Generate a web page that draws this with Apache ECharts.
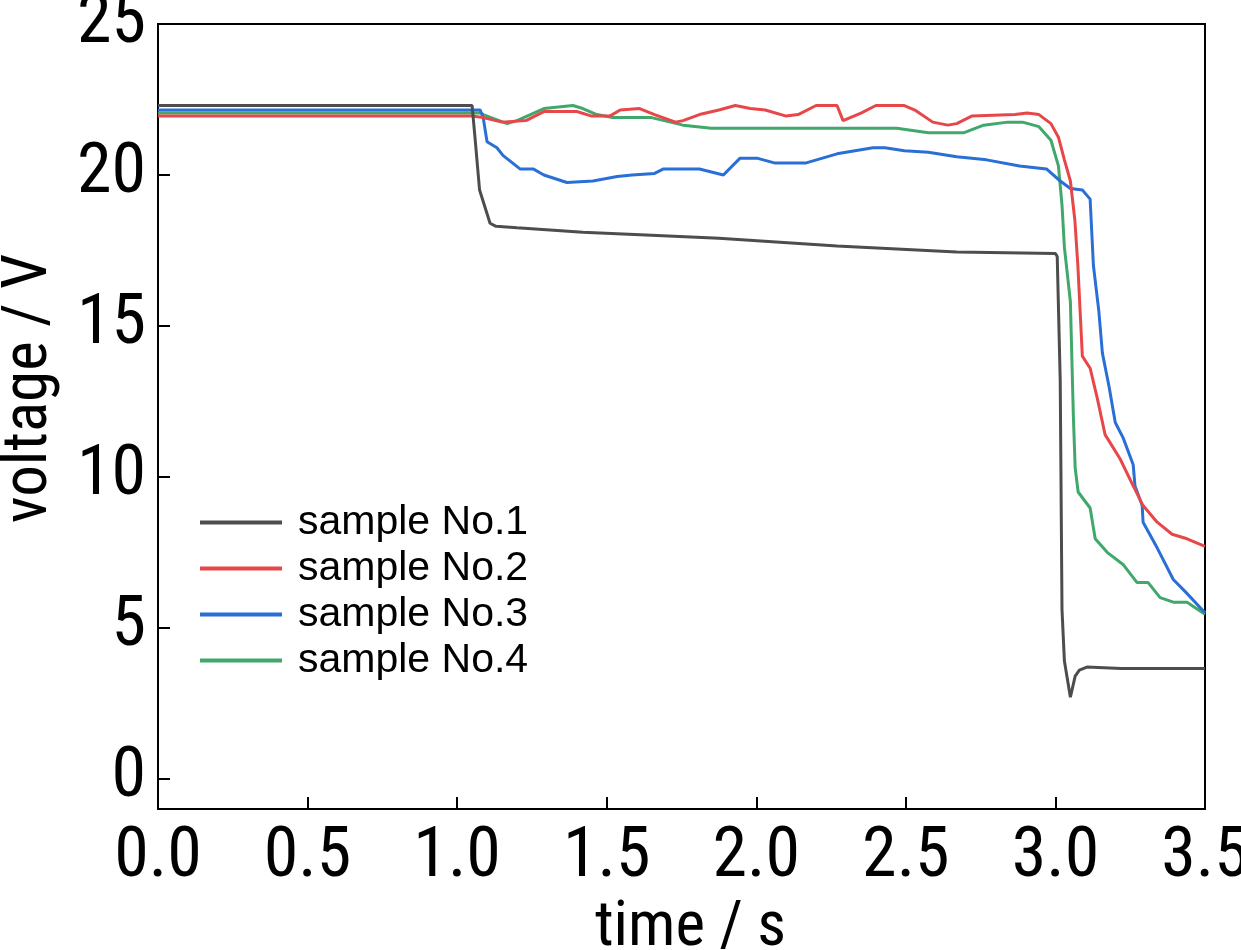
<!DOCTYPE html>
<html>
<head>
<meta charset="utf-8">
<script src="https://cdn.jsdelivr.net/npm/echarts@6/dist/echarts.min.js"></script>
<style>
  html, body { margin: 0; padding: 0; background: #fff; }
  #chart { width: 1241px; height: 950px; }
</style>
</head>
<body>
<div id="chart"></div>
<script>
// series names and colours
var names = ['sample No.1', 'sample No.2', 'sample No.3', 'sample No.4'];
var colors = ['#4d4d4d', '#e8474a', '#2a6fd6', '#3fa86a'];

// [time s, voltage V]
var sample1 = [
    [0, 22.3], [1.05, 22.3], [1.06, 21.2], [1.075, 19.5], [1.11, 18.4], [1.13, 18.3],
    [1.2, 18.25], [1.42, 18.1], [1.65, 18.0], [1.875, 17.9], [2.27, 17.65], [2.67, 17.45],
    [3.0, 17.4], [3.006, 17.3], [3.016, 13.2], [3.022, 5.6], [3.03, 3.9], [3.05, 2.7],
    [3.066, 3.4], [3.08, 3.6], [3.105, 3.7], [3.22, 3.65], [3.5, 3.65]
];
var sample2 = [
    [0, 21.95], [1.05, 21.95], [1.087, 21.9], [1.15, 21.75], [1.23, 21.8], [1.29, 22.1],
    [1.40, 22.1], [1.45, 21.95], [1.51, 21.95], [1.545, 22.15], [1.61, 22.2], [1.66, 22.0],
    [1.73, 21.75], [1.755, 21.8], [1.81, 22.0], [1.875, 22.15], [1.93, 22.3], [1.98, 22.2],
    [2.03, 22.15], [2.10, 21.95], [2.14, 22.0], [2.20, 22.3], [2.27, 22.3], [2.29, 21.8],
    [2.35, 22.05], [2.40, 22.3], [2.495, 22.3], [2.53, 22.15], [2.59, 21.75], [2.64, 21.65],
    [2.67, 21.7], [2.72, 21.95], [2.865, 22.0], [2.905, 22.05], [2.945, 22.0], [2.985, 21.7],
    [3.01, 21.25], [3.03, 20.5], [3.05, 19.8], [3.065, 18.5], [3.075, 17.0], [3.09, 14.0],
    [3.116, 13.6], [3.14, 12.6], [3.166, 11.4], [3.216, 10.6], [3.26, 9.7], [3.293, 9.05],
    [3.34, 8.5], [3.39, 8.1], [3.44, 7.95], [3.5, 7.7]
];
var sample3 = [
    [0, 22.15], [1.077, 22.15], [1.087, 21.9], [1.10, 21.1], [1.133, 20.9], [1.153, 20.65],
    [1.21, 20.2], [1.254, 20.2], [1.29, 20.0], [1.367, 19.75], [1.454, 19.8], [1.535, 19.95],
    [1.585, 20.0], [1.66, 20.05], [1.69, 20.2], [1.81, 20.2], [1.89, 20.0], [1.945, 20.55],
    [2.005, 20.55], [2.06, 20.4], [2.167, 20.4], [2.27, 20.7], [2.39, 20.9], [2.43, 20.9],
    [2.495, 20.8], [2.575, 20.75], [2.67, 20.6], [2.77, 20.5], [2.88, 20.3], [2.97, 20.2],
    [3.016, 19.8], [3.05, 19.55], [3.09, 19.5], [3.116, 19.2], [3.127, 17.0], [3.145, 15.5],
    [3.157, 14.1], [3.18, 12.95], [3.2, 11.8], [3.226, 11.3], [3.26, 10.4], [3.266, 9.7],
    [3.29, 9.05], [3.293, 8.5], [3.34, 7.65], [3.394, 6.6], [3.434, 6.2], [3.5, 5.5]
];
var sample4 = [
    [0, 22.05], [1.08, 22.05], [1.087, 22.0], [1.167, 21.7], [1.20, 21.8], [1.29, 22.2],
    [1.387, 22.3], [1.42, 22.2], [1.467, 22.0], [1.52, 21.9], [1.65, 21.9], [1.755, 21.65],
    [1.85, 21.55], [2.47, 21.55], [2.575, 21.4], [2.695, 21.4], [2.76, 21.65], [2.84, 21.75],
    [2.89, 21.75], [2.945, 21.6], [2.985, 21.15], [3.01, 20.3], [3.022, 19.0], [3.03, 17.6],
    [3.05, 15.8], [3.06, 12.0], [3.066, 10.3], [3.076, 9.5], [3.116, 8.97], [3.133, 7.95],
    [3.173, 7.5], [3.226, 7.1], [3.273, 6.5], [3.31, 6.5], [3.35, 6.0], [3.394, 5.85],
    [3.44, 5.85], [3.5, 5.45]
];
var yTicks = [0, 5, 10, 15, 20, 25];

var axisFont = '"Roboto Condensed", "Liberation Sans Narrow", sans-serif';

var myChart = echarts.init(document.getElementById('chart'));

var seriesData = [sample1, sample2, sample3, sample4];
var series = seriesData.map(function (d, i) {
    return {
        name: names[i],
        type: 'line',
        data: d,
        symbol: 'none',
        color: colors[i],
        lineStyle: {width: 3, color: colors[i]},
        z: 10 - i
    };
});

var option = {
    animation: false,
    backgroundColor: '#fff',
    grid: {
        left: 158, right: 36, top: 24, bottom: 141,
        outerBoundsMode: 'none',
        containLabel: false,
        show: true, borderColor: '#000', borderWidth: 2
    },
    legend: {
        data: names,
        orient: 'vertical',
        left: 195,
        top: 497,
        icon: 'rect',
        itemWidth: 82,
        itemHeight: 4,
        itemGap: 5,
        textStyle: {
            fontFamily: '"Liberation Sans", Arial, sans-serif',
            fontSize: 41,
            color: '#000',
            padding: [0, 0, 0, 11]
        }
    },
    xAxis: {
        type: 'value',
        min: 0, max: 3.5, interval: 0.5,
        name: 'time / s',
        nameLocation: 'middle',
        nameGap: 82,
        nameTextStyle: {fontFamily: axisFont, fontSize: 63, color: '#000', padding: [0, 0, 0, 18]},
        axisLine: {onZero: false, lineStyle: {color: '#000', width: 2}},
        axisTick: {inside: true, length: 12, lineStyle: {color: '#000', width: 2}},
        splitLine: {show: false},
        axisLabel: {
            fontFamily: axisFont, fontSize: 70, color: '#000', margin: 14,
            formatter: function (v) { return v.toFixed(1); }
        }
    },
    yAxis: {
        type: 'value',
        min: -1, max: 25,
        name: 'voltage / V',
        nameLocation: 'middle',
        nameGap: 96,
        nameTextStyle: {fontFamily: axisFont, fontSize: 63, color: '#000', padding: [0, 0, 0, 56]},
        axisLine: {onZero: false, lineStyle: {color: '#000', width: 2}},
        axisTick: {inside: true, length: 12, customValues: yTicks, lineStyle: {color: '#000', width: 2}},
        splitLine: {show: false},
        axisLabel: {
            fontFamily: axisFont, fontSize: 70, color: '#000', margin: 12,
            customValues: yTicks
        }
    },
    series: series
};

myChart.setOption(option);
</script>
</body>
</html>
